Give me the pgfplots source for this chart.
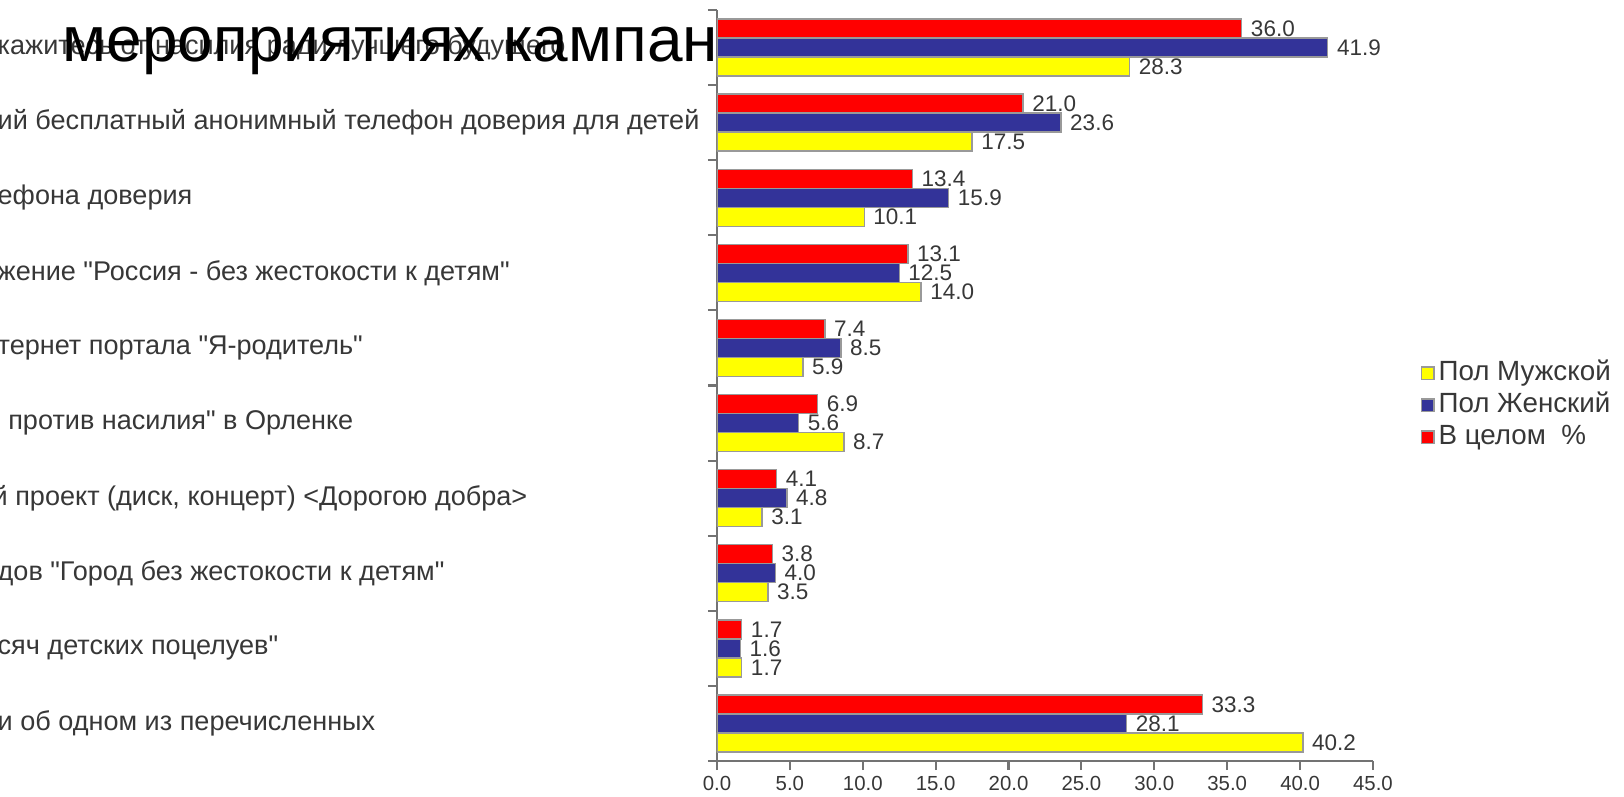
\documentclass[border=0pt]{standalone}
\usepackage{fontspec}
\setmainfont{Liberation Sans}[Ligatures=TeXOff]
\usepackage{pgfplots}
\pgfplotsset{compat=1.18}
\definecolor{cred}{RGB}{255,0,0}
\definecolor{cblue}{RGB}{51,51,153}
\definecolor{cyellow}{RGB}{255,255,0}
\definecolor{txt}{RGB}{55,55,55}

\begin{document}
\begin{tikzpicture}
\useasboundingbox (0,0) rectangle (162.4mm,79.6mm);
\begin{axis}[
  at={(71.7mm,3.5mm)}, anchor=south west,
  scale only axis, width=65.6mm, height=75.1mm,
  xbar=0pt, bar width=1.9mm,
  xmin=0, xmax=45, ymin=-0.5, ymax=9.5,
  axis x line*=bottom, axis y line*=left,
  axis line style={black!55, line width=0.6pt, -},
  tick style={black!55, line width=0.6pt},
  tick align=outside, major tick length=0.9mm,
  xtick={0,5,...,45},
  xticklabel={\pgfmathprintnumber[fixed,fixed zerofill,precision=1,assume math mode=true]{\tick}},
  xticklabel style={font=\fontsize{5.8}{7}\selectfont, text=txt, yshift=0.6mm},
  ytick={-0.5,0.5,...,9.5},
  yticklabels={},
  % labels are cut by the left edge of the picture, as in the original
  extra y ticks={0,...,9},
  extra y tick labels={
    {и об одном из перечисленных},
    {сяч детских поцелуев"},
    {дов "Город без жестокости к детям"},
    {\hspace*{-0.5mm}й проект (диск, концерт) <Дорогою добра>},
    {\hspace*{-1.2mm}и против насилия" в Орленке},
    {тернет портала "Я-родитель"},
    {жение "Россия - без жестокости к детям"},
    {ефона доверия},
    {ий бесплатный анонимный телефон доверия для детей},
    {кажитесь от насилия ради лучшего будущего}},
  extra y tick style={tick style={draw=none},
    yticklabel style={font=\fontsize{7.7}{9}\selectfont, text=txt,
      anchor=west, inner sep=0pt, xshift=-71.1mm}},
  point meta=x,
  nodes near coords={\pgfmathprintnumber[fixed,fixed zerofill,precision=1,assume math mode=true]{\pgfplotspointmeta}},
  every node near coord/.append style={font=\fontsize{6.4}{7}\selectfont, text=txt, inner sep=1pt, xshift=0.5mm},
  legend image code/.code={\draw[#1] (0mm,-0.62mm) rectangle (1.25mm,0.62mm);},
  legend style={draw=none, fill=none, at={(1.072,0.537)}, anchor=north west,
    inner sep=0pt, font=\fontsize{7.9}{9}\selectfont, text=txt, row sep=0.25mm,
    nodes={inner sep=0.5pt, text height=2mm, text depth=0.6mm},
    /tikz/every odd column/.append style={column sep=0.2mm},
    legend cell align=left},
]
\addplot[draw=black!40, line width=0.4pt, fill=cyellow] coordinates {
  (40.2,0) (1.7,1) (3.5,2) (3.1,3) (8.7,4) (5.9,5) (14.0,6) (10.1,7) (17.5,8) (28.3,9)};
\addplot[draw=black!40, line width=0.4pt, fill=cblue] coordinates {
  (28.1,0) (1.6,1) (4.0,2) (4.8,3) (5.6,4) (8.5,5) (12.5,6) (15.9,7) (23.6,8) (41.9,9)};
\addplot[draw=black!40, line width=0.4pt, fill=cred] coordinates {
  (33.3,0) (1.7,1) (3.8,2) (4.1,3) (6.9,4) (7.4,5) (13.1,6) (13.4,7) (21.0,8) (36.0,9)};
\legend{Пол Мужской, Пол Женский, В целом~~\%}
\end{axis}
\node[anchor=base west, inner sep=0pt, font=\fontsize{18.2}{21}\selectfont] at (6.2mm,73.4mm) {мероприятиях кампан};
\end{tikzpicture}
\end{document}
